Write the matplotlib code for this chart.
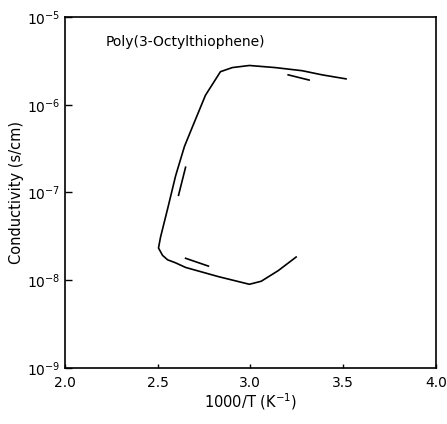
import numpy as np
import matplotlib
matplotlib.use("Agg")
from matplotlib import pyplot as plt
import matplotlib.ticker as mtick

# hysteresis loop (1000/T, conductivity in S/cm)
inv_T = [3.516, 3.387, 3.280, 3.134, 2.995, 2.903, 2.839, 2.758, 2.688, 2.645,
         2.613, 2.597, 2.554, 2.516, 2.505, 2.527, 2.554, 2.597, 2.651, 2.828,
         2.995, 3.059, 3.151, 3.247]
sigma = [1.97e-6, 2.19e-6, 2.44e-6, 2.65e-6, 2.80e-6, 2.65e-6, 2.38e-6, 1.28e-6,
         5.6e-7, 3.35e-7, 2.0e-7, 1.54e-7, 6.5e-8, 3.1e-8, 2.33e-8, 1.92e-8,
         1.71e-8, 1.58e-8, 1.40e-8, 1.10e-8, 9.0e-9, 9.75e-9, 1.29e-8, 1.84e-8]

# short direction marks next to the curve
mark_x = [[3.204, 3.317], [2.651, 2.613], [2.651, 2.774]]
mark_y = [[2.19e-6, 1.91e-6], [1.94e-7, 9.3e-8], [1.78e-8, 1.45e-8]]

x_ticks = [2.0, 2.5, 3.0, 3.5, 4.0]
y_ticks = [1e-9, 1e-8, 1e-7, 1e-6, 1e-5]

fig = plt.figure(figsize=(4.47, 4.24), dpi=100)
ax = fig.add_axes([0.145, 0.132, 0.83, 0.828])

ax.plot(inv_T, sigma, color="black", linewidth=1.2)
for mx, my in zip(mark_x, mark_y):
    ax.plot(mx, my, color="black", linewidth=1.2)

ax.set_yscale("log")
ax.set_xlim(2.0, 4.0)
ax.set_ylim(1e-9, 1e-5)
ax.set_xticks(x_ticks)
ax.xaxis.set_major_formatter(mtick.FormatStrFormatter("%.1f"))
ax.set_yticks(y_ticks)
ax.yaxis.set_minor_locator(mtick.NullLocator())
ax.tick_params(direction="in", length=5, width=1, labelsize=10)
ax.tick_params(axis="x", length=3, pad=6)
for sp in ax.spines.values():
    sp.set_linewidth(1.2)

ax.set_xlabel("1000/T (K$^{-1}$)", fontsize=10.5, labelpad=1)
ax.set_ylabel("Conductivity (s/cm)", fontsize=10.5, labelpad=2)
ax.text(0.11, 0.93, "Poly(3-Octylthiophene)", transform=ax.transAxes,
        fontsize=10, va="center", ha="left")

plt.savefig("out.png", dpi=100)
